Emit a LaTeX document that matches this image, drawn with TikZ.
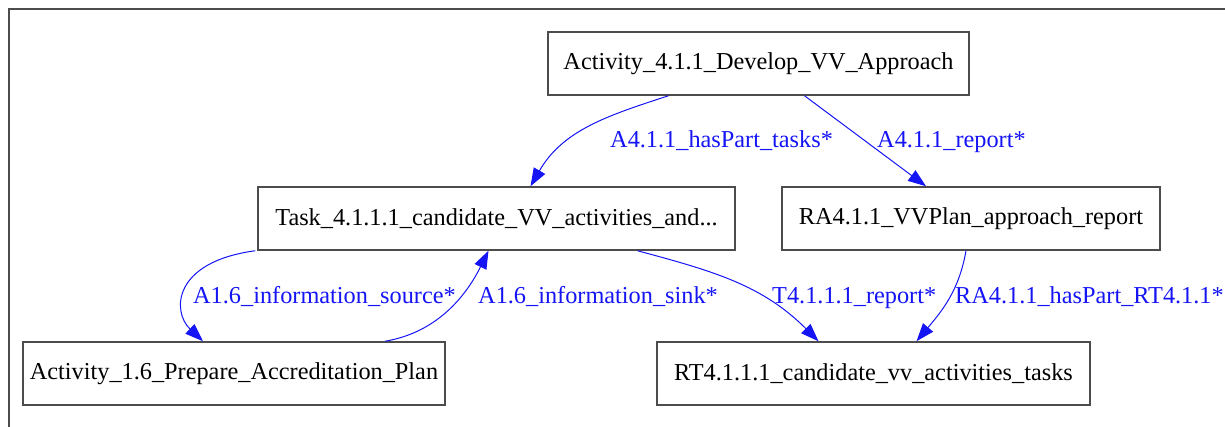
\documentclass[tikz,border=0pt]{standalone}
\usepackage{fontspec}
\setmainfont{Liberation Serif}
\usetikzlibrary{arrows.meta}
\definecolor{boxline}{gray}{0.3}
\definecolor{edgeblue}{RGB}{20,20,245}

\begin{document}
\begin{tikzpicture}
[x=1pt,y=-1pt,
 every node/.style={font=\fontsize{24.3}{28}\selectfont},
 actbox/.style={draw=boxline,line width=1.5pt,rectangle,inner sep=0pt,minimum height=63pt},
 edge/.style={draw=edgeblue,line width=1pt,-{Triangle[length=18pt,width=13pt]}},
 elabel/.style={text=edgeblue,anchor=base west,inner sep=0pt}]
  \useasboundingbox (0,0) rectangle (1225,427);
  \draw[boxline,line width=2pt] (9,427) -- (9,9) -- (1225,9);

  	\node[actbox,minimum width=421pt] (a411) at (758.5,63.5) {Activity\_4.1.1\_Develop\_VV\_Approach};
    \node[actbox,minimum width=477pt] (t4111) at (496.5,218.5) {Task\_4.1.1.1\_candidate\_VV\_activities\_and...};
    \node[actbox,minimum width=378pt] (ra411) at (971,218.5) {RA4.1.1\_VVPlan\_approach\_report};
    \node[actbox,minimum width=422pt] (a16) at (234,373.5) {Activity\_1.6\_Prepare\_Accreditation\_Plan};
    \node[actbox,minimum width=433pt] (rt4111) at (873.5,373.5) {RT4.1.1.1\_candidate\_vv\_activities\_tasks};

  \draw[edge] ([xshift=-90pt]a411.south) to[out=198,in=60] ([xshift=34pt]t4111.north);
  \draw[edge] ([xshift=46pt]a411.south) -- ([xshift=-45pt]ra411.north);
  \draw[edge] ([xshift=-2pt]t4111.south west) .. controls (172,262) and (172,312) .. ([xshift=-31pt]a16.north);
  \draw[edge] ([xshift=151pt]a16.north) .. controls (440,332) and (468,292) .. ([xshift=-8pt]t4111.south);
  \draw[edge] ([xshift=141pt]t4111.south) to[out=-15,in=135] ([xshift=-55pt]rt4111.north);
  \draw[edge] ([xshift=-5pt]ra411.south) to[out=-100,in=50] ([xshift=43pt]rt4111.north);

    \node[elabel] (l1) at (610,148) {A4.1.1\_hasPart\_tasks*};
    \node[elabel] (l2) at (877,148) {A4.1.1\_report*};
    \node[elabel] (l3) at (193,304) {A1.6\_information\_source*};
    \node[elabel] (l4) at (478,304) {A1.6\_information\_sink*};
    \node[elabel] (l5) at (772,304) {T4.1.1.1\_report*};
    \node[elabel] (l6) at (955,304) {RA4.1.1\_hasPart\_RT4.1.1*};

 \end{tikzpicture}
\end{document}
